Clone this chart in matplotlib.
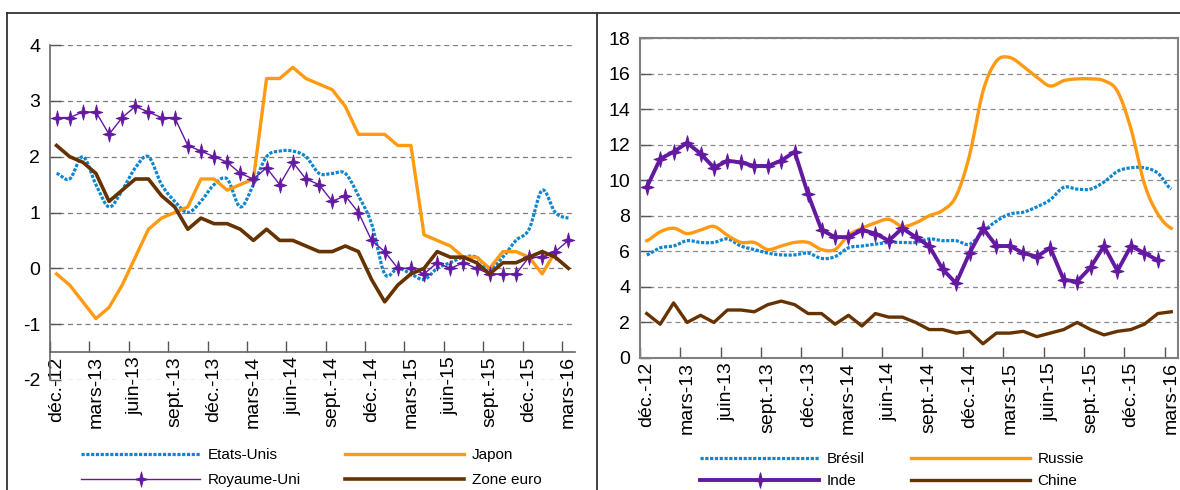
import numpy as np
import matplotlib.pyplot as plt
from matplotlib.lines import Line2D
from matplotlib.path import Path

plt.rcParams['font.family'] = ['Liberation Sans', 'DejaVu Sans']
plt.rcParams['axes.unicode_minus'] = False

# libellés de l'axe (un tous les 3 mois, déc.-12 -> mars-16)
etiquettes = ['déc.-12', 'mars-13', 'juin-13', 'sept.-13', 'déc.-13', 'mars-14', 'juin-14',
              'sept.-14', 'déc.-14', 'mars-15', 'juin-15', 'sept.-15', 'déc.-15', 'mars-16']

# pays avancés (%)
etats_unis = [1.7, 1.6, 2.0, 1.5, 1.1, 1.4, 1.8, 2.0, 1.5, 1.2,
              1.0, 1.2, 1.5, 1.6, 1.1, 1.5, 2.0, 2.1, 2.1, 2.0,
              1.7, 1.7, 1.7, 1.3, 0.8, -0.1, 0.0, -0.1, -0.2, 0.0,
              0.1, 0.2, 0.2, 0.0, 0.2, 0.5, 0.7, 1.4, 1.0, 0.9]
japon = [-0.1, -0.3, -0.6, -0.9, -0.7, -0.3, 0.2, 0.7, 0.9, 1.0,
         1.1, 1.6, 1.6, 1.4, 1.5, 1.6, 3.4, 3.4, 3.6, 3.4,
         3.3, 3.2, 2.9, 2.4, 2.4, 2.4, 2.2, 2.2, 0.6, 0.5,
         0.4, 0.2, 0.2, 0.0, 0.3, 0.3, 0.2, -0.1, 0.3, np.nan]
royaume_uni = [2.7, 2.7, 2.8, 2.8, 2.4, 2.7, 2.9, 2.8, 2.7, 2.7,
               2.2, 2.1, 2.0, 1.9, 1.7, 1.6, 1.8, 1.5, 1.9, 1.6,
               1.5, 1.2, 1.3, 1.0, 0.5, 0.3, 0.0, 0.0, -0.1, 0.1,
               0.0, 0.1, 0.0, -0.1, -0.1, -0.1, 0.2, 0.2, 0.3, 0.5]
zone_euro = [2.2, 2.0, 1.9, 1.7, 1.2, 1.4, 1.6, 1.6, 1.3, 1.1,
             0.7, 0.9, 0.8, 0.8, 0.7, 0.5, 0.7, 0.5, 0.5, 0.4,
             0.3, 0.3, 0.4, 0.3, -0.2, -0.6, -0.3, -0.1, 0.0, 0.3,
             0.2, 0.2, 0.1, -0.1, 0.1, 0.1, 0.2, 0.3, 0.2, 0.0]

# pays émergents (%)
bresil = [5.8, 6.2, 6.3, 6.6, 6.5, 6.5, 6.7, 6.3, 6.1, 5.9,
          5.8, 5.8, 5.9, 5.6, 5.7, 6.2, 6.3, 6.4, 6.5, 6.5,
          6.5, 6.7, 6.6, 6.6, 6.4, 7.1, 7.7, 8.1, 8.2, 8.5,
          8.9, 9.6, 9.5, 9.5, 9.9, 10.5, 10.7, 10.7, 10.4, 9.5]
russie = [6.6, 7.1, 7.3, 7.0, 7.2, 7.4, 6.9, 6.5, 6.5, 6.1,
          6.3, 6.5, 6.5, 6.1, 6.1, 6.9, 7.3, 7.6, 7.8, 7.4,
          7.6, 8.0, 8.3, 9.1, 11.4, 15.0, 16.7, 16.9, 16.4, 15.8,
          15.3, 15.6, 15.7, 15.7, 15.6, 15.0, 12.9, 9.8, 8.1, 7.3]
inde = [9.6, 11.2, 11.6, 12.1, 11.5, 10.7, 11.1, 11.0, 10.8, 10.8,
        11.1, 11.6, 9.2, 7.2, 6.8, 6.8, 7.2, 7.0, 6.6, 7.3,
        6.8, 6.3, 5.0, 4.2, 5.9, 7.3, 6.3, 6.3, 5.9, 5.7,
        6.2, 4.4, 4.3, 5.1, 6.3, 4.9, 6.3, 5.9, 5.5, np.nan]
chine = [2.5, 1.9, 3.1, 2.0, 2.4, 2.0, 2.7, 2.7, 2.6, 3.0,
         3.2, 3.0, 2.5, 2.5, 1.9, 2.4, 1.8, 2.5, 2.3, 2.3,
         2.0, 1.6, 1.6, 1.4, 1.5, 0.8, 1.4, 1.4, 1.5, 1.2,
         1.4, 1.6, 2.0, 1.6, 1.3, 1.5, 1.6, 1.9, 2.5, 2.6]

bleu = '#0c86d0'
orange = '#ff9a12'
violet = '#6419a1'
marron = '#663300'
pointille = (0, (1, 0.5))

# étoile à 4 branches, un peu plus haute que large
r = 0.24
etoile = Path([(0, 1.2), (r, r), (1, 0), (r, -r), (0, -1.2), (-r, -r), (-1, 0), (-r, r), (0, 1.2)],
              [Path.MOVETO] + [Path.LINETO] * 7 + [Path.CLOSEPOLY])


def lisse(y, n=12):
    # ligne lissée comme dans Excel (bezier)
    y = np.asarray(y, float)
    m = len(y)
    xs, ys = [], []
    for i in range(m - 1):
        p0 = y[max(i - 1, 0)]
        p1 = y[i]
        p2 = y[i + 1]
        p3 = y[min(i + 2, m - 1)]
        c1 = p1 + (p2 - p0) / 6
        c2 = p2 - (p3 - p1) / 6
        t = np.linspace(0, 1, n, endpoint=(i == m - 2))
        ys.append((1 - t)**3 * p1 + 3 * (1 - t)**2 * t * c1 + 3 * (1 - t) * t**2 * c2 + t**3 * p2)
        xs.append(i + 0.5 + t)
    return np.concatenate(xs), np.concatenate(ys)


x = np.arange(40) + 0.5

fig = plt.figure(figsize=(11.8, 4.9), dpi=100)
ax1 = fig.add_axes([50/1180, 1 - 380/490, 525/1180, 335/490])
ax2 = fig.add_axes([640/1180, 1 - 358/490, 538/1180, 320/490])

# axe des x du graphique de gauche croise à -1.5 (à faire avant les ticks)
ax1.spines['bottom'].set_position(('data', -1.5))

for ax in (ax1, ax2):
    ax.set_xlim(0, 40)
    ax.set_xticks(np.arange(0, 40, 3) + 0.5)
    ax.set_xticklabels(etiquettes, rotation=90)
    ax.set_xticks(np.arange(0, 40, 3), minor=True)
    ax.tick_params(axis='x', which='major', length=0, pad=3, labelsize=14)
    ax.tick_params(axis='x', which='minor', direction='in', length=8, width=1, color='#555555')
    ax.tick_params(axis='y', direction='in', length=8, width=1, color='#555555', labelsize=14, pad=7)
    ax.set_axisbelow(True)

# graphique de gauche
ax1.set_ylim(-2, 4)
ax1.set_yticks(range(-2, 5))
ax1.grid(axis='y', color='#7f7f7f', ls=(0, (4, 3)), lw=0.9)
ax1.spines['top'].set_visible(False)
ax1.spines['right'].set_visible(False)
ax1.spines['bottom'].set_color('#666666')
ax1.spines['left'].set_color('#666666')
ax1.spines['bottom'].set_linewidth(1.2)
ax1.spines['left'].set_linewidth(1.2)

xs, ys = lisse(etats_unis)
l_us, = ax1.plot(xs, ys, color=bleu, lw=2.3, ls=pointille, label='Etats-Unis')
l_jp, = ax1.plot(x, japon, color=orange, lw=2.4, label='Japon')
l_uk, = ax1.plot(x, royaume_uni, color=violet, lw=1.0, marker=etoile, ms=11, mew=0.6, label='Royaume-Uni')
l_ze, = ax1.plot(x, zone_euro, color=marron, lw=2.6, label='Zone euro')

# ncol=2 remplit par colonne : on réordonne pour avoir les lignes comme l'original
fig.legend([l_us, l_uk, l_jp, l_ze], ['Etats-Unis', 'Royaume-Uni', 'Japon', 'Zone euro'],
           loc='upper left', bbox_to_anchor=(81/1180, 1 - 448/490), ncol=2, frameon=False,
           fontsize=11, handlelength=7.8, handletextpad=0.5, columnspacing=2.9,
           labelspacing=0.75, borderpad=0, borderaxespad=0)

# graphique de droite
ax2.set_ylim(0, 18)
ax2.set_yticks(range(0, 19, 2))
ax2.grid(axis='y', color='#8c8c8c', ls=(0, (4, 3)), lw=0.9)
for s in ax2.spines.values():
    s.set_color('#808080')
    s.set_linewidth(1.5)

xs, ys = lisse(bresil)
l_br, = ax2.plot(xs, ys, color=bleu, lw=2.3, ls=pointille, label='Brésil')
xs, ys = lisse(russie)
l_ru, = ax2.plot(xs, ys, color=orange, lw=2.4, label='Russie')
l_in, = ax2.plot(x, inde, color=violet, lw=2.8, marker=etoile, ms=11, mew=0.8, label='Inde')
l_ch, = ax2.plot(x, chine, color=marron, lw=2.4, label='Chine')

fig.legend([l_br, l_in, l_ru, l_ch], ['Brésil', 'Inde', 'Russie', 'Chine'],
           loc='upper left', bbox_to_anchor=(700/1180, 1 - 452/490), ncol=2, frameon=False,
           fontsize=11, handlelength=7.8, handletextpad=0.5, columnspacing=3.0,
           labelspacing=0.55, borderpad=0, borderaxespad=0)

# cadres des deux panneaux
haut = 1 - 13/490
for xx, yy in [([7/1180, 7/1180], [0, haut]),
               ([7/1180, 1], [haut, haut]),
               ([597/1180, 597/1180], [0, haut])]:
    fig.add_artist(Line2D(xx, yy, transform=fig.transFigure, color='#333333', lw=1.3))

fig.savefig('out.png', dpi=100)
